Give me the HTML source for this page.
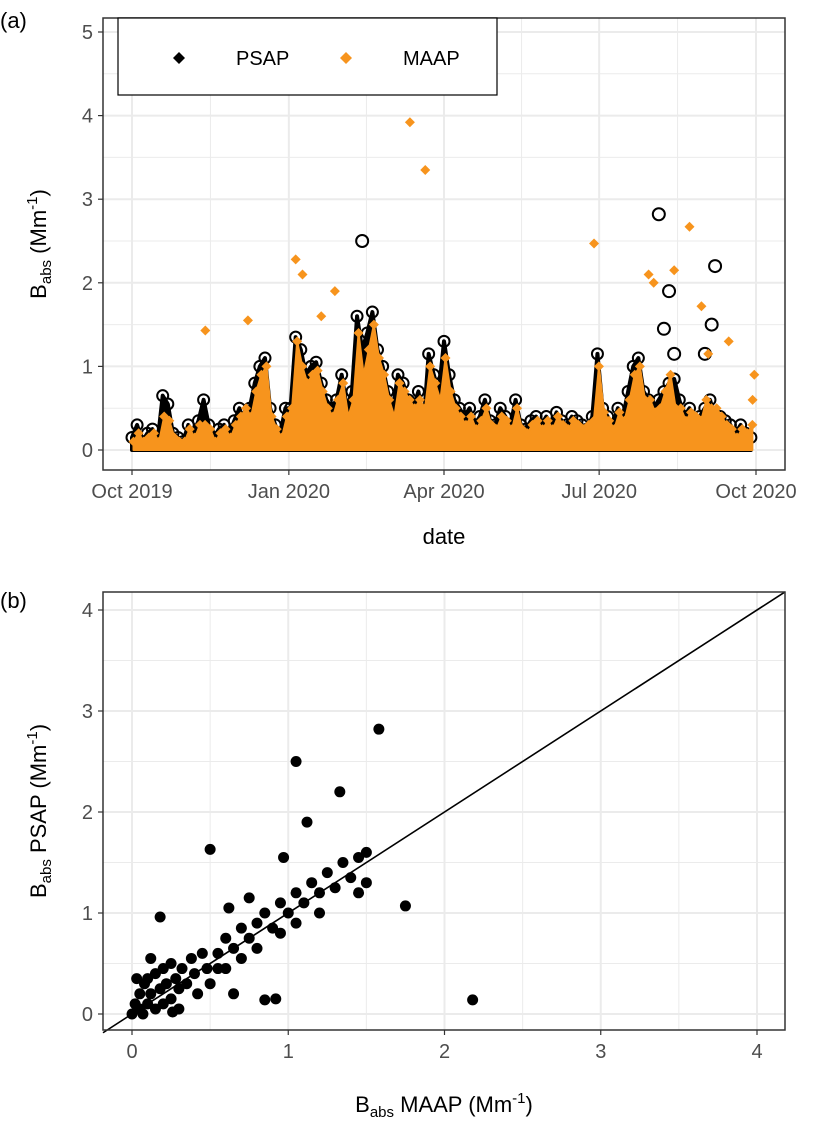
<!DOCTYPE html>
<html><head><meta charset="utf-8">
<style>
body{margin:0;background:#fff;width:814px;height:1125px;overflow:hidden;font-family:"Liberation Sans",Arial,sans-serif}
svg text{font-family:"Liberation Sans",Arial,sans-serif}
</style></head>
<body>
<svg id="chart" width="814" height="1125" viewBox="0 0 814 1125" xmlns="http://www.w3.org/2000/svg">
<text x="0" y="28" font-size="22">(a)</text>
<text x="0" y="608" font-size="22">(b)</text>
<g id="pa"></g>
<g id="pb"></g>
</svg>
<script>
const dateTicks=["Oct 2019","Jan 2020","Apr 2020","Jul 2020","Oct 2020"];
const dateTickDays=[0,92,183,274,366];
const yTicksA=[0,1,2,3,4,5];
const ticksB=[0,1,2,3,4];
const stepDays=3;
const psap=[0.15,0.3,0.1,0.2,0.25,0.1,0.65,0.55,0.2,0.15,0.1,
0.3,0.2,0.35,0.6,0.3,0.15,0.25,0.3,0.2,0.35,
0.5,0.3,0.5,0.8,1.0,1.1,0.5,0.3,0.2,0.5,
0.5,1.35,1.2,0.9,1.0,1.05,0.8,0.6,0.5,0.6,
0.9,0.5,0.7,1.6,1.2,1.4,1.65,1.2,1.0,0.7,
0.5,0.9,0.8,0.6,0.5,0.7,0.3,1.15,0.9,0.7,
1.3,0.9,0.6,0.5,0.4,0.5,0.3,0.4,0.6,0.35,
0.3,0.5,0.4,0.3,0.6,0.3,0.25,0.35,0.4,0.3,
0.4,0.3,0.45,0.35,0.3,0.4,0.35,0.3,0.25,0.4,
1.15,0.5,0.4,0.3,0.5,0.4,0.7,1.0,1.1,0.7,0.6,
0.5,0.6,0.7,0.8,0.85,0.6,0.4,0.5,0.3,0.4,
0.5,0.6,0.4,0.4,0.35,0.3,0.2,0.3,0.2,0.15];
const psapOutDays=[135,309,312,315,318,336,340,342];
const psapOutVals=[2.5,2.82,1.45,1.9,1.15,1.15,1.5,2.2];
const maap=[0.1,0.2,0.1,0.15,0.2,0.1,0.4,0.35,0.15,0.1,0.1,
0.25,0.15,0.3,0.3,0.25,0.1,0.2,0.25,0.15,0.3,
0.4,0.5,0.4,0.7,0.9,1.0,0.4,0.25,0.15,0.4,
0.5,1.3,1.0,0.8,0.9,0.95,0.7,0.5,0.4,0.6,
0.8,0.4,0.6,1.4,0.9,1.2,1.5,1.1,0.9,0.6,
0.4,0.8,0.7,0.6,0.5,0.6,0.5,1.0,0.8,0.6,
1.1,0.7,0.5,0.4,0.3,0.4,0.25,0.35,0.5,0.3,
0.25,0.4,0.35,0.25,0.5,0.25,0.2,0.3,0.35,0.25,
0.35,0.25,0.4,0.3,0.25,0.35,0.3,0.25,0.3,0.35,
1.0,0.45,0.35,0.25,0.45,0.35,0.6,0.9,1.0,0.6,0.6,
0.45,0.5,0.7,0.9,0.5,0.5,0.35,0.45,0.4,0.35,
0.6,0.5,0.5,0.4,0.3,0.25,0.15,0.25,0.2,0.3];
const maapOutDays=[43,68,96,100,119,111,163,172,271,303,306,318,327,334,338,350,365,364];
const maapOutVals=[1.43,1.55,2.28,2.1,1.9,1.6,3.92,3.35,2.47,2.1,2.0,2.15,2.67,1.72,1.15,1.3,0.9,0.6];
const scatterMaap=[0,0.02,0.05,0.05,0.08,0.1,0.1,0.12,0.15,0.15,0.18,0.2,0.2,0.22,0.25,0.25,0.28,0.3,0.3,0.32,0.35,0.38,0.4,0.42,0.45,0.48,0.5,0.12,0.03,0.07,0.18,0.26,
0.55,0.6,0.6,0.65,0.7,0.7,0.75,0.8,0.8,0.85,0.9,0.95,0.95,1.0,1.05,1.05,1.1,1.15,1.2,1.2,1.25,1.3,1.35,1.4,1.45,1.5,1.45,0.97,0.55,0.65,0.75,
0.85,0.92,2.18,1.75,1.58,1.05,1.33,1.12,0.5,0.62,1.5];
const scatterPsap=[0,0.1,0.05,0.2,0.3,0.1,0.35,0.2,0.05,0.4,0.25,0.1,0.45,0.3,0.15,0.5,0.35,0.05,0.25,0.45,0.3,0.55,0.4,0.2,0.6,0.45,0.3,0.55,0.35,0.0,0.96,0.02,
0.6,0.75,0.45,0.65,0.85,0.55,0.75,0.9,0.65,1.0,0.85,1.1,0.8,1.0,1.2,0.9,1.1,1.3,1.0,1.2,1.4,1.25,1.5,1.35,1.55,1.3,1.2,1.55,0.45,0.2,1.15,
0.14,0.15,0.14,1.07,2.82,2.5,2.2,1.9,1.63,1.05,1.6];
const NS="http://www.w3.org/2000/svg";
function mk(p,t,a){const e=document.createElementNS(NS,t);for(const k in a)e.setAttribute(k,a[k]);p.appendChild(e);return e;}
const orange="#F7941D";
const pa=document.getElementById('pa');
const A={l:103,r:785,t:18,b:470};
const xA=d=>132+d*(624/366);
const yA=v=>450-v*83.6;
mk(pa,'rect',{x:A.l,y:A.t,width:A.r-A.l,height:A.b-A.t,fill:'#fff'});
for(let v=0.5;v<5.3;v+=1){const l=mk(pa,'line',{x1:A.l,x2:A.r,y1:yA(v),y2:yA(v),stroke:'#ebebeb','stroke-width':1});}
for(let i=0;i<dateTickDays.length-1;i++){const d=(dateTickDays[i]+dateTickDays[i+1])/2;const l=mk(pa,'line',{x1:xA(d),x2:xA(d),y1:A.t,y2:A.b,stroke:'#ebebeb','stroke-width':1});}
yTicksA.forEach(v=>{const l=mk(pa,'line',{x1:A.l,x2:A.r,y1:yA(v),y2:yA(v),stroke:'#ebebeb','stroke-width':2});
 const t=mk(pa,'text',{x:A.l-10,y:yA(v)+7,'font-size':20,fill:'#4d4d4d','text-anchor':'end'});t.textContent=v;
 mk(pa,'line',{x1:A.l-5,x2:A.l,y1:yA(v),y2:yA(v),stroke:'#333','stroke-width':1.2});});
dateTickDays.forEach((d,i)=>{const l=mk(pa,'line',{x1:xA(d),x2:xA(d),y1:A.t,y2:A.b,stroke:'#ebebeb','stroke-width':2});
 mk(pa,'line',{x1:xA(d),x2:xA(d),y1:A.b,y2:A.b+5,stroke:'#333','stroke-width':1.2});
 const t=mk(pa,'text',{x:xA(d),y:A.b+28,'font-size':20,fill:'#4d4d4d','text-anchor':'middle'});t.textContent=dateTicks[i];});
function area(vals,off){let s=xA(0)+off+','+yA(0)+' ';vals.forEach((v,i)=>{s+=(xA(i*stepDays)+off)+','+yA(v)+' ';});s+=(xA((vals.length-1)*stepDays)+off)+','+yA(0);return s;}
const pA=mk(pa,'polygon',{points:area(psap,0),fill:'#000',stroke:'#000','stroke-width':4,'stroke-linejoin':'round'});
psap.forEach((v,i)=>{const c=mk(pa,'circle',{cx:xA(i*stepDays),cy:yA(v),r:5.5,fill:'none',stroke:'#000','stroke-width':2});});
psapOutDays.forEach((d,i)=>{const c=mk(pa,'circle',{cx:xA(d),cy:yA(psapOutVals[i]),r:6,fill:'none',stroke:'#000','stroke-width':2});});
const mA=mk(pa,'polygon',{points:area(maap,1.5),fill:orange,stroke:orange,'stroke-width':2,'stroke-linejoin':'round'});
function dia(x,y){const p=mk(pa,'polygon',{points:`${x},${y-5} ${x+5},${y} ${x},${y+5} ${x-5},${y}`,fill:orange});}
maap.forEach((v,i)=>dia(xA(i*stepDays)+1.5,yA(v)));
maapOutDays.forEach((d,i)=>dia(xA(d),yA(maapOutVals[i])));
const fa=mk(pa,'rect',{x:A.l,y:A.t,width:A.r-A.l,height:A.b-A.t,fill:'none',stroke:'#333','stroke-width':1.5});
let t=mk(pa,'text',{x:444,y:544,'font-size':22,'text-anchor':'middle'});t.textContent='date';
t=mk(pa,'text',{transform:'translate(46,244) rotate(-90)','font-size':22,'text-anchor':'middle'});
t.innerHTML='B<tspan font-size="15" dy="5">abs</tspan><tspan dy="-5"> (Mm</tspan><tspan font-size="15" dy="-9">-1</tspan><tspan dy="9">)</tspan>';

const lg=mk(pa,'g',{});
mk(lg,'rect',{x:118,y:18,width:379,height:77,fill:'#fff',stroke:'#000','stroke-width':1.2});
mk(lg,'polygon',{points:'179,52 185,58 179,64 173,58',fill:'#000'});
t=mk(lg,'text',{x:236,y:65,'font-size':20});t.textContent='PSAP';
mk(lg,'polygon',{points:'346,52 352,58 346,64 340,58',fill:orange});
t=mk(lg,'text',{x:403,y:65,'font-size':20});t.textContent='MAAP';
const pb=document.getElementById('pb');
const B={l:103,r:785,t:592,b:1030};
const xB=v=>132+v*156.25;
const yB=v=>1014-v*101;
for(let v=0.5;v<4.3;v+=1){let l=mk(pb,'line',{x1:B.l,x2:B.r,y1:yB(v),y2:yB(v),stroke:'#ebebeb','stroke-width':1});
 l=mk(pb,'line',{x1:xB(v),x2:xB(v),y1:B.t,y2:B.b,stroke:'#ebebeb','stroke-width':1});}
ticksB.forEach(v=>{let l=mk(pb,'line',{x1:B.l,x2:B.r,y1:yB(v),y2:yB(v),stroke:'#ebebeb','stroke-width':2});
 l=mk(pb,'line',{x1:xB(v),x2:xB(v),y1:B.t,y2:B.b,stroke:'#ebebeb','stroke-width':2});
 mk(pb,'line',{x1:B.l-5,x2:B.l,y1:yB(v),y2:yB(v),stroke:'#333','stroke-width':1.2});
 mk(pb,'line',{x1:xB(v),x2:xB(v),y1:B.b,y2:B.b+5,stroke:'#333','stroke-width':1.2});
 let tt=mk(pb,'text',{x:B.l-10,y:yB(v)+7,'font-size':20,fill:'#4d4d4d','text-anchor':'end'});tt.textContent=v;
 tt=mk(pb,'text',{x:xB(v),y:B.b+28,'font-size':20,fill:'#4d4d4d','text-anchor':'middle'});tt.textContent=v;});
scatterPsap.forEach((v,i)=>{const c=mk(pb,'circle',{cx:xB(scatterMaap[i]),cy:yB(v),r:5.5,fill:'#000'});});
const x0=(B.l-132)/156.25,x1=(B.r-132)/156.25;
const ol=mk(pb,'line',{x1:B.l,y1:yB(x0),x2:B.r,y2:yB(x1),stroke:'#000','stroke-width':1.6});
const fb=mk(pb,'rect',{x:B.l,y:B.t,width:B.r-B.l,height:B.b-B.t,fill:'none',stroke:'#333','stroke-width':1.5});
t=mk(pb,'text',{x:444,y:1112,'font-size':22,'text-anchor':'middle'});
t.innerHTML='B<tspan font-size="15" dy="5">abs</tspan><tspan dy="-5"> MAAP (Mm</tspan><tspan font-size="15" dy="-9">-1</tspan><tspan dy="9">)</tspan>';

t=mk(pb,'text',{transform:'translate(46,811) rotate(-90)','font-size':22,'text-anchor':'middle'});
t.innerHTML='B<tspan font-size="15" dy="5">abs</tspan><tspan dy="-5"> PSAP (Mm</tspan><tspan font-size="15" dy="-9">-1</tspan><tspan dy="9">)</tspan>';

</script>
</body></html>
